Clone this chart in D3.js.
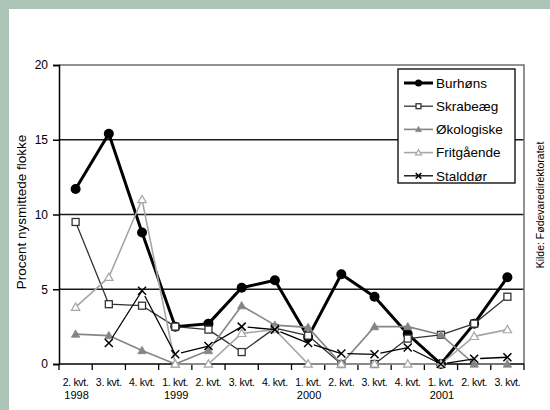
<!DOCTYPE html>
<html>
<head>
<meta charset="utf-8">
<script src="https://cdn.jsdelivr.net/npm/d3@7"></script>
<style>
  html, body { margin: 0; padding: 0; background: #fff; }
  svg { display: block; font-family: "Liberation Sans", Arial, sans-serif; }
</style>
</head>
<body>
<svg id="chart" width="550" height="410"></svg>
<script>
// Quarters on the x axis and the year printed under the first quarter of each year
const quarters = ["2. kvt.", "3. kvt.", "4. kvt.", "1. kvt.", "2. kvt.", "3. kvt.", "4. kvt.",
                  "1. kvt.", "2. kvt.", "3. kvt.", "4. kvt.", "1. kvt.", "2. kvt.", "3. kvt."];
const years = ["1998", "", "", "1999", "", "", "", "2000", "", "", "", "2001", "", ""];
const yTicks = [0, 5, 10, 15, 20];

// Percent newly infected flocks per production type
const burhons    = [11.7, 15.4, 8.8, 2.5, 2.7, 5.1, 5.6, 1.8, 6.0, 4.5, 2.0, 0, 2.7, 5.8];
const skrabeaeg  = [9.5, 4.0, 3.9, 2.5, 2.3, 0.8, 2.4, 1.9, 0, 0, 1.7, 1.95, 2.7, 4.5];
const okologiske = [2.0, 1.9, 0.9, 0, 0.9, 3.9, 2.6, 2.45, 0, 2.5, 2.5, 1.95, 0, 0];
const fritgaende = [3.8, 5.8, 11.0, 0, 0, 2.05, 2.3, 0, 0, 0, 0, 0, 1.85, 2.3];
const stalddor   = [null, 1.4, 4.9, 0.65, 1.2, 2.5, 2.3, 1.4, 0.7, 0.65, 1.1, 0, 0.35, 0.45];

const seriesNames = ["Burhøns", "Skrabeæg", "Økologiske", "Fritgående", "Stalddør"];

const series = [
  { name: seriesNames[0], values: burhons,    color: "#000",    width: 3,   marker: "circle" },
  { name: seriesNames[1], values: skrabeaeg,  color: "#333",    width: 1.3, marker: "square" },
  { name: seriesNames[2], values: okologiske, color: "#858585", width: 1.6, marker: "triFilled" },
  { name: seriesNames[3], values: fritgaende, color: "#a6a6a6", width: 1.6, marker: "triOpen" },
  { name: seriesNames[4], values: stalddor,   color: "#000",    width: 1.3, marker: "cross", gapped: true }
];

const svg = d3.select("#chart");

// Frame band along the top and left edge
svg.append("rect").attr("x", 0).attr("y", 0).attr("width", 550).attr("height", 9).attr("fill", "#adc4b9");
svg.append("rect").attr("x", 0).attr("y", 0).attr("width", 9).attr("height", 410).attr("fill", "#adc4b9");

const plotL = 59, plotR = 524, plotT = 65, plotB = 364;

const x = d3.scaleBand().domain(d3.range(quarters.length)).range([plotL, plotR]);
const y = d3.scaleLinear().domain([0, 20]).range([plotB, plotT]);
const cx = i => x(i) + x.bandwidth() / 2;

// Horizontal gridlines
svg.append("g").selectAll("line").data(yTicks.filter(t => t > 0 && t < 20)).join("line")
  .attr("x1", plotL).attr("x2", plotR)
  .attr("y1", d => y(d)).attr("y2", d => y(d))
  .attr("stroke", "#1a1a1a").attr("stroke-width", 1.5);

// Plot frame: top and right
svg.append("path")
  .attr("d", `M${plotL},${y(20)}H${plotR}V${plotB}`)
  .attr("fill", "none").attr("stroke", "#6e6e6e").attr("stroke-width", 1.5);

// Y axis
const yAxis = svg.append("g").attr("transform", `translate(${plotL},0)`)
  .call(d3.axisLeft(y).tickValues(yTicks).tickSize(6).tickPadding(5));
yAxis.select(".domain").attr("stroke", "#000").attr("stroke-width", 1.5);
yAxis.selectAll(".tick line").attr("stroke", "#000").attr("stroke-width", 1.5);
yAxis.selectAll(".tick text").attr("font-size", 12).attr("fill", "#000")
  .attr("font-family", "Liberation Sans, Arial, sans-serif");

// X axis: ticks at the band boundaries
const boundaries = d3.range(quarters.length + 1).map(i => plotL + i * x.bandwidth());
svg.append("line").attr("x1", plotL).attr("x2", plotR).attr("y1", plotB).attr("y2", plotB)
  .attr("stroke", "#000").attr("stroke-width", 1.5);
svg.append("g").selectAll("line").data(boundaries).join("line")
  .attr("x1", d => d).attr("x2", d => d).attr("y1", plotB).attr("y2", plotB + 6)
  .attr("stroke", "#000").attr("stroke-width", 1.3);

svg.append("g").selectAll("text").data(quarters).join("text")
  .attr("x", (d, i) => cx(i)).attr("y", 386)
  .attr("text-anchor", "middle").attr("font-size", 10.5).attr("fill", "#000")
  .attr("letter-spacing", -0.3)
  .text(d => d);
svg.append("g").selectAll("text").data(years).join("text")
  .attr("x", (d, i) => cx(i) + 1).attr("y", 398.5)
  .attr("text-anchor", "middle").attr("font-size", 11).attr("fill", "#000")
  .text(d => d);

// Axis title and source note
svg.append("text")
  .attr("transform", `translate(26,212) rotate(-90)`)
  .attr("text-anchor", "middle").attr("font-size", 13.5).attr("fill", "#000")
  .text("Procent nysmittede flokke");
svg.append("text")
  .attr("transform", `translate(544,205) rotate(-90)`)
  .attr("text-anchor", "middle").attr("font-size", 10.5).attr("fill", "#000")
  .text("Kilde: Fødevaredirektoratet");

// Marker drawing
function drawMarker(g, s, px, py, scale = 1) {
  const c = s.color;
  if (s.marker === "circle") {
    g.append("circle").attr("cx", px).attr("cy", py).attr("r", 5 * scale).attr("fill", c);
  } else if (s.marker === "square") {
    const h = 3.5 * scale;
    g.append("rect").attr("x", px - h).attr("y", py - h).attr("width", 2 * h).attr("height", 2 * h)
      .attr("fill", "#fff").attr("stroke", c).attr("stroke-width", 1.3);
  } else if (s.marker === "triFilled" || s.marker === "triOpen") {
    const h = 4.2 * scale;
    g.append("path")
      .attr("d", `M${px},${py - h}L${px + h},${py + h * 0.75}L${px - h},${py + h * 0.75}Z`)
      .attr("fill", s.marker === "triFilled" ? c : "#fff")
      .attr("stroke", c).attr("stroke-width", s.marker === "triFilled" ? 0.8 : 1.2);
  } else if (s.marker === "cross") {
    const h = 4 * scale;
    g.append("path")
      .attr("d", `M${px - h},${py - h}L${px + h},${py + h}M${px - h},${py + h}L${px + h},${py - h}`)
      .attr("stroke", c).attr("stroke-width", 1.5).attr("fill", "none");
  }
}

// Series lines and markers
const line = d3.line()
  .defined(d => d != null)
  .x((d, i) => cx(i))
  .y(d => y(d));

series.forEach(s => {
  const g = svg.append("g");
  if (s.gapped) {
    // segments leave a small gap after each cross
    s.values.forEach((v, i) => {
      const w = s.values[i + 1];
      if (v == null || w == null) return;
      const x0 = cx(i), y0 = y(v), x1 = cx(i + 1), y1 = y(w);
      const len = Math.hypot(x1 - x0, y1 - y0), off = 6;
      g.append("line")
        .attr("x1", x0 + (x1 - x0) * off / len).attr("y1", y0 + (y1 - y0) * off / len)
        .attr("x2", x1).attr("y2", y1)
        .attr("stroke", s.color).attr("stroke-width", s.width);
    });
  } else {
    g.append("path").datum(s.values).attr("d", line)
      .attr("fill", "none").attr("stroke", s.color).attr("stroke-width", s.width)
      .attr("stroke-linejoin", "round");
  }
  s.values.forEach((v, i) => { if (v != null) drawMarker(g, s, cx(i), y(v)); });
});

// Legend
const lg = svg.append("g");
lg.append("rect").attr("x", 398).attr("y", 69).attr("width", 117).attr("height", 114)
  .attr("fill", "#fff").attr("stroke", "#000").attr("stroke-width", 1.3);
series.forEach((s, i) => {
  const ly = 83 + i * 23.2;
  lg.append("line").attr("x1", 404).attr("x2", 433).attr("y1", ly).attr("y2", ly)
    .attr("stroke", s.color).attr("stroke-width", s.width);
  drawMarker(lg, s, 418.5, ly, 0.7);
  lg.append("text").attr("x", 436).attr("y", ly + 4.8)
    .attr("font-size", 13.5).attr("fill", "#000").text(s.name);
});
</script>
</body>
</html>
